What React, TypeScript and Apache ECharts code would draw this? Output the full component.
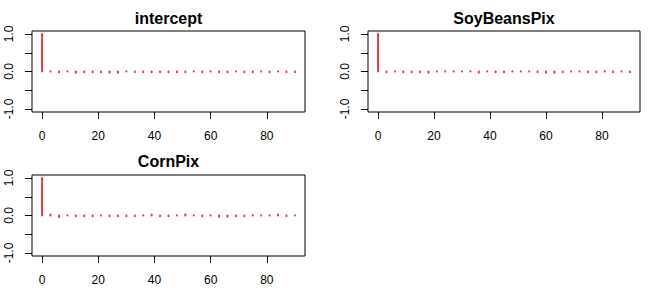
import { useEffect, useRef } from "react";
import * as echarts from "echarts";

const lags = [0, 3, 6, 9, 12, 15, 18, 21, 24, 27, 30, 33, 36, 39, 42, 45, 48, 51, 54, 57, 60, 63, 66, 69, 72, 75, 78, 81, 84, 87, 90];

const interceptAcf = [1.0, 0.005, -0.02, 0.005, -0.03, -0.02, -0.02, -0.02, -0.035, -0.035, 0.005, -0.02, -0.02, -0.02, -0.02, -0.02, -0.02, -0.02, 0.005, -0.02, 0.005, -0.02, -0.02, 0.005, -0.02, -0.02, 0.005, -0.02, 0.005, -0.02, -0.02];

const soyBeansAcf = [1.0, -0.02, 0.005, -0.02, -0.02, -0.02, -0.035, 0.005, 0.005, 0.005, 0.005, 0.005, -0.035, 0.005, -0.02, -0.02, 0.005, 0.005, 0.005, -0.02, -0.035, -0.035, -0.02, 0.005, 0.005, -0.02, -0.02, 0.005, -0.02, 0.005, -0.02];

const cornAcf = [1.0, 0.025, -0.04, 0.005, -0.02, -0.02, -0.02, 0.005, -0.02, -0.02, -0.02, -0.02, 0.005, 0.025, -0.02, -0.02, 0.005, 0.025, 0.005, -0.02, 0.005, -0.035, -0.035, -0.02, -0.02, 0.005, 0.005, 0.005, 0.025, -0.02, 0.005];

const panelTitles = ["intercept", "SoyBeansPix", "CornPix"];
const panelValues = [interceptAcf, soyBeansAcf, cornAcf];
const xTicks = [0, 20, 40, 60, 80];
const yTicks = [-1, -0.5, 0, 0.5, 1];
const yLabelValues = [-1, 0, 1];

const FONT = "'Liberation Sans', Arial, sans-serif";
const RED = "#e8373f";

const panels = [
  { left: 32, top: 31, width: 273, height: 81, titleTop: 10 },
  { left: 368, top: 31, width: 272, height: 81, titleTop: 10 },
  { left: 32, top: 175, width: 273, height: 81, titleTop: 153 },
];

export default function App() {
  const ref = useRef<HTMLDivElement>(null);
  useEffect(() => {
    if (!ref.current) return;
    const chart = echarts.init(ref.current, null, { renderer: "svg" });
    const renderItem = (params: any, api: any) => {
      const x = api.value(0);
      const y = api.value(1);
      const p0 = api.coord([x, 0]);
      const p1 = api.coord([x, y]);
      return {
        type: "line",
        shape: { x1: p0[0], y1: p0[1], x2: p1[0], y2: p1[1] },
        style: { stroke: RED, lineWidth: 2, lineCap: "round" },
      };
    };
    chart.setOption({
      animation: false,
      backgroundColor: "#ffffff",
      title: panels.map((p, i) => ({
        text: panelTitles[i],
        left: p.left + p.width / 2,
        top: p.titleTop,
        textAlign: "center",
        padding: 0,
        textStyle: { fontFamily: FONT, fontSize: 16, fontWeight: "bold", color: "#000", lineHeight: 16 },
      })),
      grid: panels.map((p) => ({
        left: p.left,
        top: p.top,
        width: p.width,
        height: p.height,
        show: true,
        borderColor: "#000",
        borderWidth: 1,
        backgroundColor: "transparent",
        containLabel: false,
      })),
      xAxis: panels.map((_, i) => ({
        type: "value",
        gridIndex: i,
        position: "bottom",
        min: -3.6,
        max: 93.6,
        axisLine: { show: false, onZero: false },
        splitLine: { show: false },
        axisTick: { show: true, customValues: xTicks, length: 7, inside: false, lineStyle: { color: "#000", width: 1 } },
        axisLabel: {
          show: true,
          customValues: xTicks,
          margin: 18,
          fontFamily: FONT,
          fontSize: 12,
          color: "#000",
          formatter: (v: number) => String(v),
        },
      })),
      yAxis: panels.map((_, i) => ({
        type: "value",
        gridIndex: i,
        position: "left",
        min: -1.08,
        max: 1.08,
        axisLine: { show: false, onZero: false },
        splitLine: { show: false },
        axisTick: { show: true, customValues: yTicks, length: 7, inside: false, lineStyle: { color: "#000", width: 1 } },
        axisLabel: {
          show: true,
          customValues: yLabelValues,
          rotate: 90,
          margin: 17,
          fontFamily: FONT,
          fontSize: 12,
          color: "#000",
          formatter: (v: number) => v.toFixed(1),
        },
      })),
      series: panels.map((_, i) => ({
        type: "custom",
        xAxisIndex: i,
        yAxisIndex: i,
        renderItem,
        encode: { x: 0, y: 1 },
        data: lags.map((l, k) => [l, panelValues[i][k]]),
      })),
    });
    return () => chart.dispose();
  }, []);
  return (
    <div
      ref={ref}
      style={{ position: "fixed", left: 0, top: 0, width: 672, height: 288, background: "#fff" }}
    />
  );
}
